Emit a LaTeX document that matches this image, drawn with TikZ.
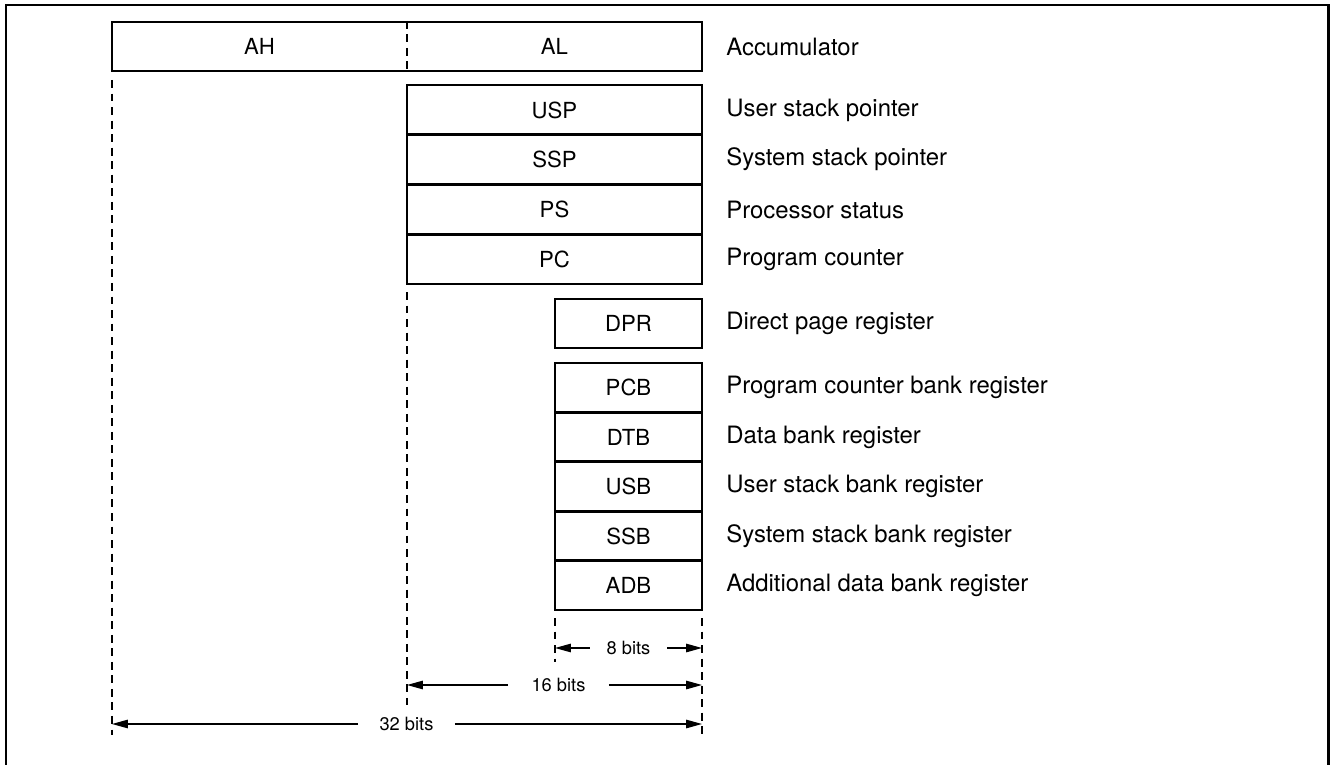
\documentclass[tikz,border=0pt]{standalone}
\usepackage{fontspec}
\setmainfont{TeX Gyre Heros}
\usetikzlibrary{arrows.meta}
\tikzset {>={Triangle[length=9pt,width=4.8pt]}}
\tikzset{
  reg/.style={draw,line width=1.4pt,inner sep=0pt,minimum height=0.995cm,font=\fontsize{12.6}{15}\selectfont},
  wide/.style={reg,minimum width=5.9cm},
  narrow/.style={reg,minimum width=2.94cm,minimum height=0.988cm},
  desc/.style={anchor=west,inner sep=0pt,font=\fontsize{13.6}{15}\selectfont},
  guide/.style={line width=0.6pt,dash pattern=on 4.5pt off 3.2pt},
  dim/.style={line width=0.7pt,->},
  bits/.style={inner ysep=0pt,font=\fontsize{10.4}{12}\selectfont}
}

\begin{document}
\begin{tikzpicture}
\useasboundingbox (0,0) rectangle (26.66,-15.30);
% frame, open at the bottom
\draw[line width=1.7pt] (0.12,-15.6) -- (0.12,-0.10) -- (26.56,-0.10) -- (26.56,-15.6);

% accumulator
\node[reg,minimum width=11.8cm,minimum height=0.98cm] (acc) at (8.14,-0.93) {};
\node[font=\fontsize{12.6}{15}\selectfont] (ah) at (5.19,-0.93) {AH};
\node[font=\fontsize{12.6}{15}\selectfont] (al) at (11.09,-0.93) {AL};
\draw[guide] (acc.north) -- (acc.south);
\node[desc] (accd) at (14.52,-0.93) {Accumulator};

% 16 bit registers
\node[wide] (usp) at (11.09,-2.20) {USP};
\node[wide] (ssp) at (11.09,-3.19) {SSP};
\node[wide] (ps) at (11.09,-4.19) {PS};
\node[wide] (pc) at (11.09,-5.18) {PC};
\node[desc] (uspd) at (14.52,-2.20) {User stack pointer};
\node[desc] (sspd) at (14.52,-3.19) {System stack pointer};
\node[desc] (psd) at (14.52,-4.19) {Processor status};
\node[desc] (pcd) at (14.52,-5.18) {Program counter};

% 8 bit registers
\node[narrow] (dpr) at (12.57,-6.47) {DPR};
\node[desc] (dprd) at (14.52,-6.47) {Direct page register};
\node[narrow] (pcb) at (12.57,-7.75) {PCB};
\node[narrow] (dtb) at (12.57,-8.74) {DTB};
\node[narrow] (usb) at (12.57,-9.73) {USB};
\node[narrow] (ssb) at (12.57,-10.72) {SSB};
\node[narrow] (adb) at (12.57,-11.71) {ADB};
\node[desc] (pcbd) at (14.52,-7.75) {Program counter bank register};
\node[desc] (dtbd) at (14.52,-8.74) {Data bank register};
\node[desc] (usbd) at (14.52,-9.73) {User stack bank register};
\node[desc] (ssbd) at (14.52,-10.72) {System stack bank register};
\node[desc] (adbd) at (14.52,-11.71) {Additional data bank register};

% guide lines
\coordinate (g32t) at (2.24,-1.60);
\coordinate (g32b) at (2.24,-14.70);
\coordinate (g16t) at (8.14,-5.84);
\coordinate (g16b) at (8.14,-14.10);
\coordinate (g8t) at (11.10,-12.36);
\coordinate (g8b) at (11.10,-13.24);
\coordinate (grt) at (14.04,-12.36);
\coordinate (grb) at (14.04,-14.70);
\draw[guide] (g32t) -- (g32b);
\draw[guide] (g16t) -- (g16b);
\draw[guide] (g8t) -- (g8b);
\draw[guide] (grt) -- (grb);

% widths
\coordinate (w8l) at (11.10,-12.96);
\coordinate (w8r) at (14.04,-12.96);
\coordinate (w16l) at (8.14,-13.70);
\coordinate (w16r) at (14.04,-13.70);
\coordinate (w32l) at (2.24,-14.48);
\coordinate (w32r) at (14.04,-14.48);
\node[bits,inner xsep=0.33cm] (b8) at (12.57,-12.96) {8 bits};
\node[bits,inner xsep=0.46cm] (b16) at (11.17,-13.70) {16 bits};
\node[bits,inner xsep=0.42cm] (b32) at (8.13,-14.48) {32 bits};
\draw[dim] (b8.west) -- (w8l);
\draw[dim] (b8.east) -- (w8r);
\draw[dim] (b16.west) -- (w16l);
\draw[dim] (b16.east) -- (w16r);
\draw[dim] (b32.west) -- (w32l);
\draw[dim] (b32.east) -- (w32r);
\end{tikzpicture}
\end{document}
